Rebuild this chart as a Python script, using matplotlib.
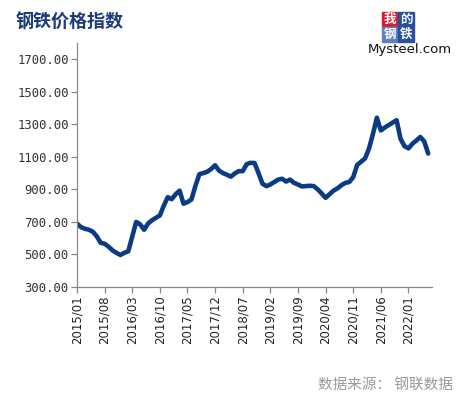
import numpy as np
import matplotlib.pyplot as plt
from matplotlib.patches import Rectangle

plt.rcParams['font.family'] = ['Noto Sans CJK SC', 'DejaVu Sans']

# monthly index, 2015/01 .. 2022/06
values = [
    690, 668, 658, 652, 640, 612, 572, 566, 548, 525, 510, 497,   # 2015
    510, 520, 610, 700, 685, 652, 690, 710, 725, 740, 800, 852,   # 2016
    840, 870, 892, 812, 822, 838, 920, 993, 1000, 1008, 1025, 1048,  # 2017
    1015, 1000, 990, 978, 998, 1012, 1012, 1055, 1063, 1062, 1000, 935,  # 2018
    920, 930, 945, 960, 965, 948, 960, 940, 930, 918, 920, 922,   # 2019
    920, 900, 875, 848, 870, 892, 906, 925, 940, 945, 975, 1050,  # 2020
    1070, 1090, 1150, 1240, 1340, 1262, 1280, 1295, 1310, 1325, 1210, 1165,  # 2021
    1152, 1180, 1200, 1222, 1195, 1120,  # 2022
]
tick_pos = [0, 7, 14, 21, 28, 35, 42, 49, 56, 63, 70, 77, 84]
tick_labels = ['2015/01', '2015/08', '2016/03', '2016/10', '2017/05', '2017/12',
               '2018/07', '2019/02', '2019/09', '2020/04', '2020/11', '2021/06',
               '2022/01']
y_ticks = [300, 500, 700, 900, 1100, 1300, 1500, 1700]

fig = plt.figure(figsize=(4.63, 3.97), dpi=100)
ax = fig.add_axes([0.1663, 0.277, 0.767, 0.615])

x = np.arange(len(values))
ax.plot(x, values, color='#0b3b85', linewidth=3.3, solid_capstyle='round',
        solid_joinstyle='round')

ax.set_xlim(0, 90)
ax.set_ylim(300, 1800)
ax.set_yticks(y_ticks)
ax.set_yticklabels([f'{v:.2f}' for v in y_ticks], fontsize=8.8, color='#333333',
                   family='DejaVu Sans Mono')
ax.set_xticks(tick_pos)
ax.set_xticklabels(tick_labels, rotation=90, fontsize=8.5, color='#222222',
                   family='DejaVu Sans')

for s in ['top', 'right']:
    ax.spines[s].set_visible(False)
for s in ['left', 'bottom']:
    ax.spines[s].set_color('#888888')
    ax.spines[s].set_linewidth(0.9)
ax.tick_params(colors='#888888', length=4, width=0.9, direction='out')
ax.tick_params(axis='x', labelcolor='#222222', pad=2)
ax.tick_params(axis='y', labelcolor='#333333', pad=2)

# title and source
fig.text(16 / 463, 1 - 22 / 397, '钢铁价格指数', fontsize=13, fontweight='bold',
         color='#1b3b7b', ha='left', va='center')
fig.text(453 / 463, 1 - 385 / 397, '数据来源： 钢联数据', fontsize=10.5,
         color='#9a9a9a', ha='right', va='center')

# logo
W, H = 463, 397
cells = [('我', 382, 12, '#d4202c'), ('的', 398, 12, '#2a4f9e'),
         ('钢', 382, 27, '#5f7fc0'), ('铁', 398, 27, '#2a4f9e')]
for ch, lx, ly, c in cells:
    fig.patches.append(Rectangle((lx / W, 1 - (ly + 15) / H), 16 / W, 15 / H,
                                 transform=fig.transFigure, color=c))
    fig.text((lx + 8) / W, 1 - (ly + 7.5) / H, ch, fontsize=9, color='white',
             fontweight='bold', ha='center', va='center')
fig.text(410 / W, 1 - 50 / H, 'Mysteel.com', fontsize=9.5, color='#111111',
         ha='center', va='center', family='DejaVu Sans')

plt.savefig('out.png', dpi=100)
